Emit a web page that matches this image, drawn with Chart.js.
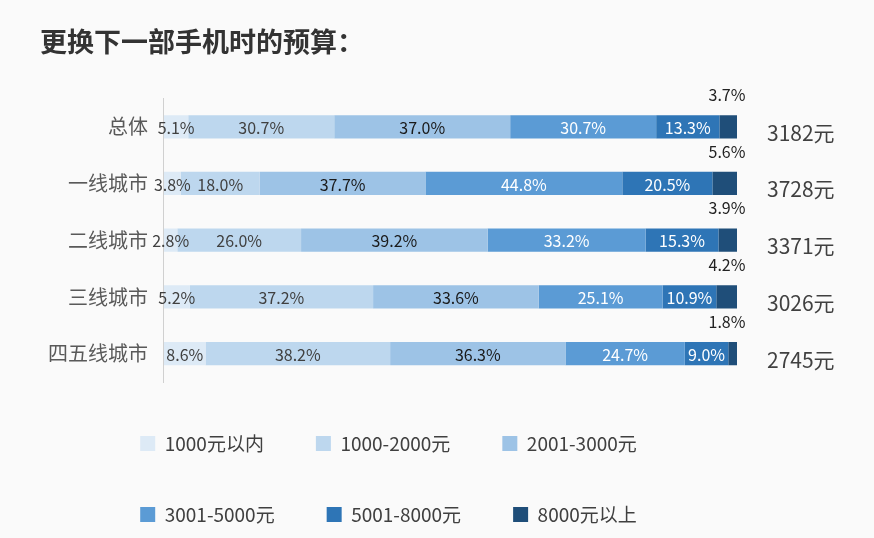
<!DOCTYPE html>
<html><head><meta charset="utf-8">
<script src="https://cdn.jsdelivr.net/npm/chart.js@4/dist/chart.umd.min.js"></script>
<style>
html,body{margin:0;padding:0;background:#fafafa;}
#wrap{width:874px;height:538px;}
</style></head>
<body><div id="wrap"><canvas id="c"></canvas></div>
<script>
const categories = ['总体', '一线城市', '二线城市', '三线城市', '四五线城市'];
const seriesNames = ['1000元以内', '1000-2000元', '2001-3000元', '3001-5000元', '5001-8000元', '8000元以上'];
const s1 = [5.1, 3.8, 2.8, 5.2, 8.6];
const s2 = [30.7, 18.0, 26.0, 37.2, 38.2];
const s3 = [37.0, 37.7, 39.2, 33.6, 36.3];
const s4 = [30.7, 44.8, 33.2, 25.1, 24.7];
const s5 = [13.3, 20.5, 15.3, 10.9, 9.0];
const s6 = [3.7, 5.6, 3.9, 4.2, 1.8];
const averages = ['3182元', '3728元', '3371元', '3026元', '2745元'];
const colors = ['#ddeaf6', '#bdd7ee', '#9dc3e6', '#5b9bd5', '#2e75b6', '#1f4e79'];
const textColors = ['#404040', '#404040', '#1a1a1a', '#ffffff', '#ffffff', '#ffffff'];

const raw = [s1, s2, s3, s4, s5, s6];
// rows are drawn as 100% stacks, labels keep the survey values
const totals = categories.map((_, i) => raw.reduce((a, s) => a + s[i], 0));

const labelPlugin = {
    id: 'labels',
    afterDatasetsDraw(chart) {
        const ctx = chart.ctx;
        ctx.save();
        ctx.font = '16px "Noto Sans CJK SC", "Noto Sans", sans-serif';
        ctx.textBaseline = 'middle';
        chart.data.datasets.forEach((ds, di) => {
            chart.getDatasetMeta(di).data.forEach((bar, i) => {
                const txt = ds.raw[i].toFixed(1) + '%';
                ctx.textAlign = 'center';
                if (di === 5) {
                    ctx.fillStyle = '#222';
                    ctx.fillText(txt, bar.x - 10, bar.y - 32);
                } else {
                    ctx.fillStyle = textColors[di];
                    ctx.fillText(txt, (bar.base + bar.x) / 2, bar.y + 1);
                }
            });
        });
        const xs = chart.scales.x, ys = chart.scales.y;
        ctx.font = '21px "Noto Sans CJK SC", sans-serif';
        ctx.fillStyle = '#404040';
        ctx.textAlign = 'left';
        averages.forEach((t, i) => ctx.fillText(t, xs.right + 30, ys.getPixelForValue(i) + 6));
        ctx.restore();
    }
};

new Chart(document.getElementById('c'), {
    type: 'bar',
    data: {
        labels: categories,
        datasets: seriesNames.map((name, k) => ({
            label: name,
            raw: raw[k],
            data: raw[k].map((v, i) => v / totals[i] * 100),
            backgroundColor: colors[k],
            borderWidth: 0,
            barPercentage: 0.82,
            categoryPercentage: 0.5
        }))
    },
    options: {
        indexAxis: 'y',
        responsive: true,
        maintainAspectRatio: false,
        animation: false,
        layout: { padding: { left: 40, right: 137, top: 0, bottom: 4 } },
        scales: {
            x: { stacked: true, min: 0, max: 100, display: false },
            y: {
                stacked: true,
                grid: { display: false },
                border: { color: '#d0d0d0' },
                ticks: { color: '#595959', font: { size: 20, family: '"Noto Sans CJK SC", sans-serif' }, padding: 8 }
            }
        },
        plugins: {
            title: {
                display: true, text: '更换下一部手机时的预算：', align: 'start',
                color: '#333', font: { size: 27, weight: 'bold', family: '"Noto Sans CJK SC", sans-serif' },
                padding: { top: 26, bottom: 40 }
            },
            legend: {
                position: 'bottom',
                labels: {
                    color: '#404040', boxWidth: 15, boxHeight: 15, padding: 52,
                    font: { size: 19, family: '"Noto Sans CJK SC", sans-serif' }
                }
            },
            tooltip: { enabled: false }
        }
    },
    plugins: [labelPlugin]
});
</script></body></html>
